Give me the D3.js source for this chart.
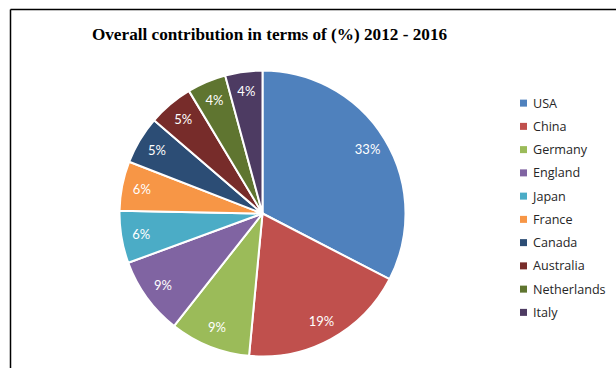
<!DOCTYPE html>
<html>
<head>
<meta charset="utf-8">
<script src="https://cdn.jsdelivr.net/npm/d3@7"></script>
<style>
  html, body { margin: 0; padding: 0; background: #fff; }
  svg { display: block; }
</style>
</head>
<body>
<svg id="chart" width="616" height="368"></svg>
<script>
const categories = ["USA", "China", "Germany", "England", "Japan", "France", "Canada", "Australia", "Netherlands", "Italy"];
const values = [32.6, 18.9, 9.1, 8.8, 5.9, 5.6, 5.4, 5.1, 4.4, 4.2];
const colors = ["#4F81BD", "#C0504D", "#9BBB59", "#8064A2", "#4BACC6", "#F79646", "#2C4D75", "#772C2A", "#5F7530", "#4D3B62"];
const title = "Overall contribution in terms of (%) 2012 - 2016";

const svg = d3.select("#chart");

// frame lines (top and left)
svg.append("line").attr("x1", 10.5).attr("y1", 9.5).attr("x2", 616).attr("y2", 9.5)
  .attr("stroke", "#000").attr("stroke-width", 1.5);
svg.append("line").attr("x1", 10.5).attr("y1", 9.5).attr("x2", 10.5).attr("y2", 368)
  .attr("stroke", "#000").attr("stroke-width", 1.5);

svg.append("text")
  .attr("x", 269.5).attr("y", 40)
  .attr("text-anchor", "middle")
  .attr("font-family", "'Liberation Serif', 'Times New Roman', serif")
  .attr("font-weight", "bold")
  .attr("font-size", 17.2)
  .attr("fill", "#000")
  .text(title);

const cx = 262.5, cy = 213.5, R = 143;
const data = categories.map((c, i) => ({ name: c, value: values[i], color: colors[i] }));
const pie = d3.pie().value(d => d.value).sort(null);
const arc = d3.arc().innerRadius(0).outerRadius(R);
const labelArc = d3.arc().innerRadius(R * 0.86).outerRadius(R * 0.86);
const arcs = pie(data);

const g = svg.append("g").attr("transform", `translate(${cx},${cy})`);
g.selectAll("path.slice").data(arcs).join("path")
  .attr("class", "slice")
  .attr("d", arc)
  .attr("fill", d => d.data.color)
  .attr("stroke", "#fff")
  .attr("stroke-width", 2)
  .attr("stroke-linejoin", "round");

g.selectAll("text.lbl").data(arcs).join("text")
  .attr("class", "lbl")
  .attr("transform", d => `translate(${labelArc.centroid(d)})`)
  .attr("text-anchor", "middle")
  .attr("dy", "0.36em")
  .attr("font-family", "Lato, 'Open Sans', sans-serif")
  .attr("font-size", 13)
  .attr("fill", "#fff")
  .text(d => Math.round(d.data.value) + "%");

// legend
const legendY = d3.scaleBand().domain(categories).range([91.5, 324]).paddingInner(0);
const lg = svg.append("g");
const items = lg.selectAll("g.item").data(data).join("g")
  .attr("class", "item")
  .attr("transform", d => `translate(520, ${legendY(d.name) + legendY.bandwidth() / 2})`);
items.append("rect")
  .attr("x", 0).attr("y", -3.5).attr("width", 7).attr("height", 7)
  .attr("fill", d => d.color);
items.append("text")
  .attr("x", 13).attr("y", 0).attr("dy", "0.36em")
  .attr("font-family", "'Open Sans', Lato, sans-serif")
  .attr("font-size", 12.6)
  .attr("fill", "#262626")
  .text(d => d.name);
</script>
</body>
</html>
